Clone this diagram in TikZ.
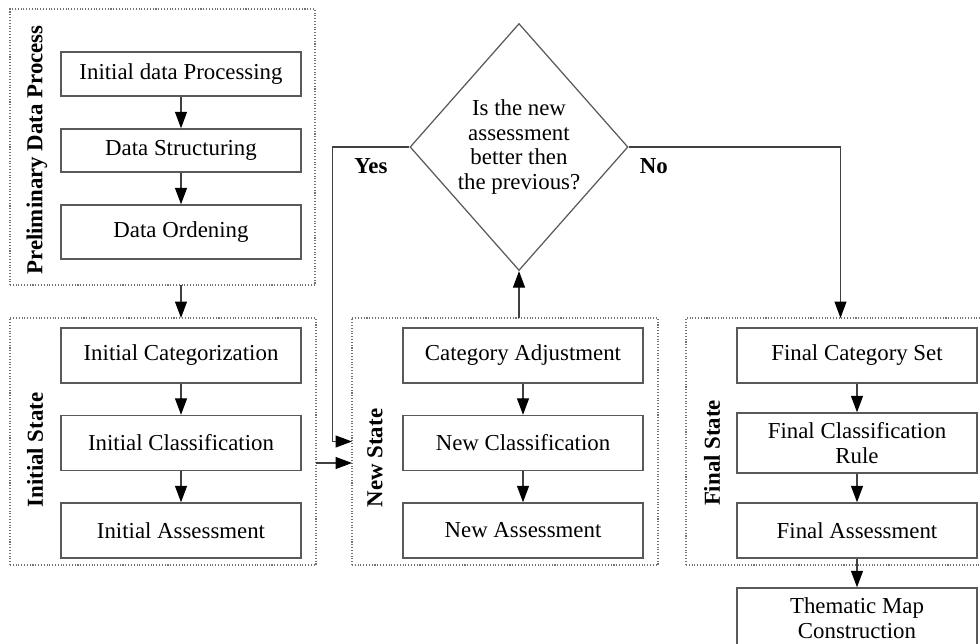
\documentclass[tikz,border=0pt]{standalone}
\usepackage{fontspec}
\setmainfont{Liberation Serif}
\usepackage{tikz}
\usetikzlibrary{arrows.meta,shapes.geometric}

\begin{document}
\begin{tikzpicture}[->, >={Triangle[length=3.3mm,width=2.4mm,color=black]}, node distance=1.75cm, font=\fontsize{13}{14.2}\selectfont,
  box/.style={rectangle, draw=black!65, line width=0.8pt, minimum width=4.8cm, minimum height=1.1cm, align=center, inner sep=2pt},
  group/.style={rectangle, draw=black!55, densely dotted, line width=0.6pt, inner sep=0pt, outer sep=0pt},
  decision/.style={diamond, draw=black!65, line width=0.7pt, minimum width=4.36cm, minimum height=4.94cm, inner sep=0pt, align=center},
  title/.style={font=\fontsize{13}{14.2}\selectfont\bfseries, rotate=90},
  lbl/.style={font=\fontsize{13}{14.2}\selectfont\bfseries, inner sep=6pt},
  conn/.style={draw=black!75, line width=0.7pt}]

\useasboundingbox (0,0) rectangle (19.6,-12.88);
\clip (0,0) rectangle (19.6,-12.88);

% dotted groups
\node[group, minimum width=6.1cm, minimum height=5.52cm] (gpre) at (3.25,-2.94) {};
\node[group, minimum width=6.12cm, minimum height=4.94cm] (gini) at (3.26,-8.83) {};
\node[group, minimum width=6.12cm, minimum height=4.94cm] (gnew) at (10.10,-8.83) {};
\node[group, minimum width=6.18cm, minimum height=4.94cm] (gfin) at (16.81,-8.83) {};

\node[title] (tpre) at (0.74,-3.0) {Preliminary Data Process};
\node[title] (tini) at (0.70,-9.0) {Initial State};
\node[title] (tnew) at (7.5,-9.16) {New State};
\node[title] (tfin) at (14.24,-9.06) {Final State};

% steps
\node[box, minimum height=0.88cm] (ipro) at (3.62,-1.48) {Initial data Processing};
\node[box, minimum height=0.86cm] (dstr) [below of=ipro, node distance=1.53cm] {Data Structuring};
\node[box, minimum height=1.08cm] (dord) [below of=dstr, node distance=1.63cm] {Data Ordening};

\node[box] (icat) at (3.62,-7.11) {Initial Categorization};
\node[box] (icla) [below of=icat] {Initial Classification};
\node[box] (iass) [below of=icla] {Initial Assessment};

\node[box] (cadj) at (10.46,-7.11) {Category Adjustment};
\node[box] (ncla) [below of=cadj] {New Classification};
\node[box] (nass) [below of=ncla] {New Assessment};

\node[box] (fcat) at (17.14,-7.11) {Final Category Set};
\node[box, minimum height=1.2cm] (fcla) [below of=fcat] {Final Classification\\Rule};
\node[box] (fass) [below of=fcla] {Final Assessment};
\node[box, minimum height=1.2cm] (tmap) [below of=fass] {Thematic Map\\Construction};

\node[decision] (dec) at (10.38,-2.94) {Is the new\\assessment\\better then\\the previous?};

\path[conn]
(ipro) edge (dstr)
(dstr) edge (dord)

(icat) edge (icla)
(icla) edge (iass)

(cadj) edge (ncla)
(ncla) edge (nass)

(fcat) edge (fcla)
(fcla) edge (fass)
(fass) edge (tmap);

\draw[conn] (gpre.south -| dord) -- (gini.north -| dord);
\draw[conn] ([yshift=-0.43cm]gini.east) -- ([yshift=-0.43cm]gnew.west);
\draw[conn] (gnew.north -| dec) -- (dec);
\draw[conn] (dec.west) -- node[lbl, below] {Yes} ++(-1.54,0) |- (gnew.west);
\draw[conn] (dec.east) node[lbl, below right] {No} -| (gfin.north);

\end{tikzpicture}
\end{document}
